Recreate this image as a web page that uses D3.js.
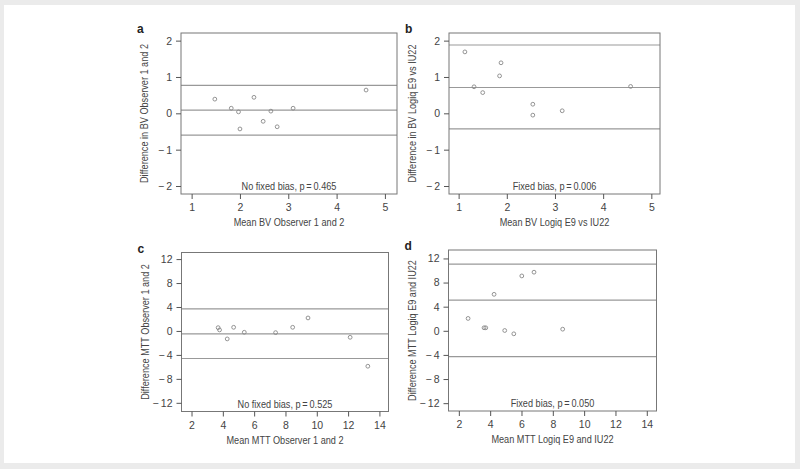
<!DOCTYPE html>
<html><head><meta charset="utf-8">
<script src="https://cdn.jsdelivr.net/npm/d3@7"></script>
<style>body{margin:0;background:#ebebeb}svg{display:block}text{font-family:"Liberation Sans",Arial,sans-serif;fill:#444}</style>
</head><body>
<svg id="c" width="800" height="469"></svg>
<script>
// Panel a: BV observer 1 vs 2
const aMean = [1.48,1.82,1.97,2.00,2.29,2.48,2.64,2.77,3.10,4.61];
const aDiff = [0.39,0.14,0.04,-0.43,0.44,-0.22,0.06,-0.37,0.14,0.64];
const aLines = [0.77,0.09,-0.60];
// Panel b: BV Logiq E9 vs IU22
const bMean = [1.13,1.32,1.50,1.85,1.88,2.54,2.54,3.15,4.57];
const bDiff = [1.69,0.73,0.57,1.03,1.39,0.25,-0.05,0.07,0.74];
const bLines = [1.88,0.71,-0.43];
// Panel c: MTT observer 1 vs 2
const cMean = [3.70,3.79,4.28,4.69,5.37,7.37,8.46,9.44,12.13,13.26];
const cDiff = [0.55,0.17,-1.33,0.61,-0.22,-0.28,0.61,2.17,-1.06,-5.89];
const cLines = [3.67,-0.5,-4.6];
// Panel d: MTT Logiq E9 vs IU22
const dMean = [2.59,3.61,3.72,4.25,4.93,5.51,6.02,6.80,8.63];
const dDiff = [2.05,0.5,0.5,6.05,0.05,-0.5,9.1,9.72,0.27];
const dLines = [11.05,5.1,-4.28];

const bvXTicks = [1,2,3,4,5];
const bvYTicks = [-2,-1,0,1,2];
const mttXTicks = [2,4,6,8,10,12,14];
const mttYTicks = [-12,-8,-4,0,4,8,12];

const panels = [
  {label:"a", x:aMean, y:aDiff, lines:aLines, xd:[0.78,5.25], yd:[-2.22,2.21], xt:bvXTicks, yt:bvYTicks,
   box:[181,397,33,194], xtitle:"Mean BV Observer 1 and 2", ytitle:"Difference in BV Observer 1 and 2", note:"No fixed bias, p\u2009=\u20090.465"},
  {label:"b", x:bMean, y:bDiff, lines:bLines, xd:[0.80,5.18], yd:[-2.22,2.21], xt:bvXTicks, yt:bvYTicks,
   box:[449,660,33,194], xtitle:"Mean BV Logiq E9 vs IU22", ytitle:"Difference in BV Logiq E9 vs IU22", note:"Fixed bias, p\u2009=\u20090.006"},
  {label:"c", x:cMean, y:cDiff, lines:cLines, xd:[1.36,14.58], yd:[-13.45,13.1], xt:mttXTicks, yt:mttYTicks,
   box:[181.5,388.5,252.5,411.5], xtitle:"Mean MTT Observer 1 and 2", ytitle:"Difference MTT Observer 1 and 2", note:"No fixed bias, p\u2009=\u20090.525"},
  {label:"d", x:dMean, y:dDiff, lines:dLines, xd:[1.34,14.62], yd:[-13.3,13.4], xt:mttXTicks, yt:mttYTicks,
   box:[448.5,656.5,250,411], xtitle:"Mean MTT Logiq E9 and IU22", ytitle:"Difference MTT Logiq E9 and IU22", note:"Fixed bias, p\u2009=\u20090.050"}
];

const svg = d3.select("#c");
svg.append("rect").attr("x",4).attr("y",5).attr("width",791).attr("height",458).attr("fill","#fff");

const fmt = v => v < 0 ? "\u2212\u2009" + Math.abs(v) : String(v);
const condense = sel => sel.each(function(){
  const w = this.getComputedTextLength();
  d3.select(this).attr("textLength", w*0.87).attr("lengthAdjust","spacingAndGlyphs");
});

panels.forEach(p => {
  const [l,r,t,b] = p.box;
  const x = d3.scaleLinear().domain(p.xd).range([l,r]);
  const y = d3.scaleLinear().domain(p.yd).range([b,t]);
  const g = svg.append("g");

  g.append("text").text(p.label).attr("x",l-44).attr("y",t)
    .style("font-weight","bold").style("font-size","12px").style("fill","#222");

  g.selectAll("line.ref").data(p.lines).enter().append("line")
    .attr("x1",l).attr("x2",r).attr("y1",d=>y(d)).attr("y2",d=>y(d))
    .attr("stroke","#999").attr("stroke-width",1.2);

  g.append("rect").attr("x",l).attr("y",t).attr("width",r-l).attr("height",b-t)
    .attr("fill","none").attr("stroke","#777").attr("stroke-width",1);

  const xa = g.append("g").attr("transform",`translate(0,${b})`)
    .call(d3.axisBottom(x).tickValues(p.xt).tickSize(5).tickPadding(5).tickFormat(d=>String(d)).tickSizeOuter(0));
  const ya = g.append("g").attr("transform",`translate(${l},0)`)
    .call(d3.axisLeft(y).tickValues(p.yt).tickSize(5).tickPadding(4).tickFormat(fmt).tickSizeOuter(0));
  [xa,ya].forEach(a => {
    a.select(".domain").remove();
    a.selectAll("line").attr("stroke","#555");
    a.selectAll("text").style("font-size","10.5px").style("fill","#444").style("font-family","'Liberation Sans',Arial,sans-serif");
  });

  g.selectAll("circle").data(p.x.map((v,i)=>[v,p.y[i]])).enter().append("circle")
    .attr("cx",d=>x(d[0])).attr("cy",d=>y(d[1])).attr("r",1.9)
    .attr("fill","none").attr("stroke","#888").attr("stroke-width",0.9);

  g.append("text").text(p.note).attr("x",(l+r)/2).attr("y",b-4)
    .attr("text-anchor","middle").style("font-size","10.5px").call(condense);

  g.append("text").text(p.xtitle).attr("x",(l+r)/2).attr("y",b+32)
    .attr("text-anchor","middle").style("font-size","10.5px").call(condense);

  g.append("text").text(p.ytitle)
    .attr("transform",`translate(${l-33},${(t+b)/2}) rotate(-90)`)
    .attr("text-anchor","middle").style("font-size","10.5px").call(condense);
});
</script>
</body></html>
